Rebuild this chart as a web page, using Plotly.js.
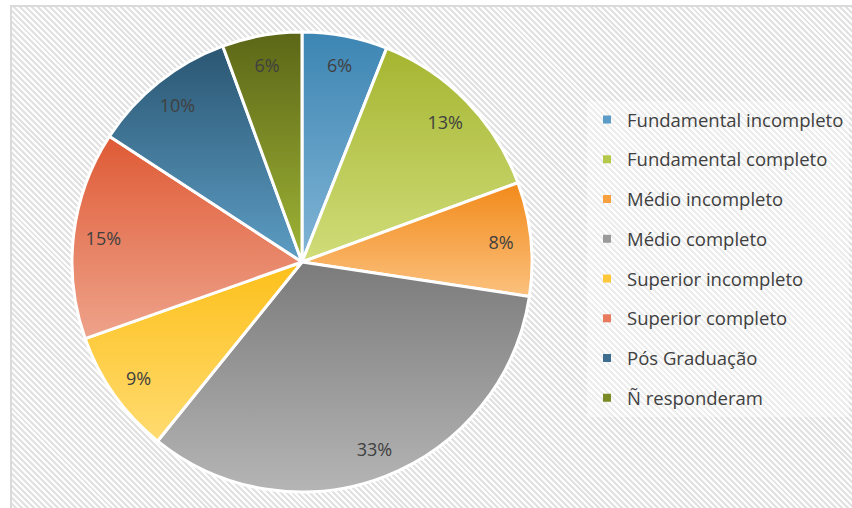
<!DOCTYPE html>
<html><head><meta charset="utf-8">
<script src="https://cdn.plot.ly/plotly-3.0.1.min.js"></script>
<style>
html,body{margin:0;padding:0;background:#fff;overflow:hidden;}
#frame{position:absolute;left:10px;top:5px;width:842px;height:503px;border-left:2px solid #dadada;border-top:2px solid #dadada;box-sizing:border-box;
background:repeating-linear-gradient(45deg,#fdfdfd 0px,#fdfdfd 2.1px,#e2e2e2 2.1px,#e2e2e2 4.2px);}
#chart{position:absolute;left:0;top:0;width:852px;height:508px;}
</style></head>
<body><div id="frame"></div><div id="chart"></div>
<script>
const categories = ["Fundamental incompleto","Fundamental completo","Médio incompleto","Médio completo","Superior incompleto","Superior completo","Pós Graduação","Ñ responderam"];
const shares = [6, 13.4, 8, 33.4, 8.8, 14.6, 10.2, 5.6];
const midColors = ["#5b9bc5","#b6c84a","#f7a03e","#9a9a9a","#fec83a","#e87a5e","#3d6e8f","#7a8b26"];
const topColors = ["#3c85b3","#a5b530","#f28a1a","#7b7b7b","#fdc01b","#df5a35","#2a5672","#5c6617"];
const bottomColors = ["#82b5d6","#d0dd7a","#fbc17e","#b5b5b5","#ffdb70","#eea38b","#5d9dc4","#9fb436"];

const gd = document.getElementById('chart');
const pieDomain = {x:[72/852, 532/852], y:[16/508, 476/508]};
const pie = {
  type:'pie', labels:categories, values:shares, sort:false, direction:'clockwise', rotation:0,
  marker:{colors:midColors, line:{color:'#ffffff', width:3}},
  textinfo:'none', domain:pieDomain, showlegend:false, hoverinfo:'none'
};
// transparent ring carrying the percentage labels near the outer edge
const labelRing = {
  type:'pie', labels:categories, values:shares, sort:false, direction:'clockwise', rotation:0, hole:0.74,
  marker:{colors:categories.map(()=> 'rgba(0,0,0,0)'), line:{width:0}},
  texttemplate:'%{percent:.0%}', textposition:'inside', insidetextorientation:'horizontal',
  textfont:{family:'Open Sans', size:18, color:'#404040'},
  domain:pieDomain, showlegend:false, hoverinfo:'none'
};
const legendTraces = categories.map((c,i)=>({
  type:'scatter', mode:'markers', x:[null], y:[null], name:c, legendgroup:'g'+i,
  marker:{symbol:'square', size:8, color:midColors[i]}, hoverinfo:'none'
}));
const layout = {
  width:852, height:508, margin:{l:0,r:0,t:0,b:0},
  paper_bgcolor:'rgba(0,0,0,0)', plot_bgcolor:'rgba(0,0,0,0)',
  xaxis:{visible:false}, yaxis:{visible:false},
  showlegend:true,
  legend:{x:587/852, xanchor:'left', y:1-101/508, yanchor:'top', bgcolor:'rgba(255,255,255,0.4)',
    font:{family:'Open Sans', size:18.5, color:'#404040'}, tracegroupgap:12.7, itemclick:false, itemdoubleclick:false},
  font:{family:'Open Sans', color:'#404040'}
};
Plotly.newPlot(gd, [pie, labelRing].concat(legendTraces), layout, {displayModeBar:false}).then(()=>{
  const ns='http://www.w3.org/2000/svg';
  const svg = gd.querySelector('svg.main-svg');
  let defs = svg.querySelector('defs');
  if(!defs){defs=document.createElementNS(ns,'defs');svg.insertBefore(defs, svg.firstChild);}
  const firstPie = gd.querySelector('.pielayer g.trace');
  if(!firstPie) return;
  firstPie.querySelectorAll('g.slice').forEach((g,k)=>{
    const d = g.__data__; const i = (d && d.i!==undefined)? d.i : k;
    const grad = document.createElementNS(ns,'linearGradient');
    const id='sliceGrad'+i;
    grad.setAttribute('id',id);
    grad.setAttribute('x1','0');grad.setAttribute('y1','0');grad.setAttribute('x2','0');grad.setAttribute('y2','1');
    [[0,topColors[i]],[1,bottomColors[i]]].forEach(([o,c])=>{
      const s=document.createElementNS(ns,'stop');s.setAttribute('offset',o);s.setAttribute('stop-color',c);grad.appendChild(s);
    });
    defs.appendChild(grad);
    const p = g.querySelector('path.surface');
    if(p) p.style.fill='url(#'+id+')';
  });
});
</script>
</body></html>
